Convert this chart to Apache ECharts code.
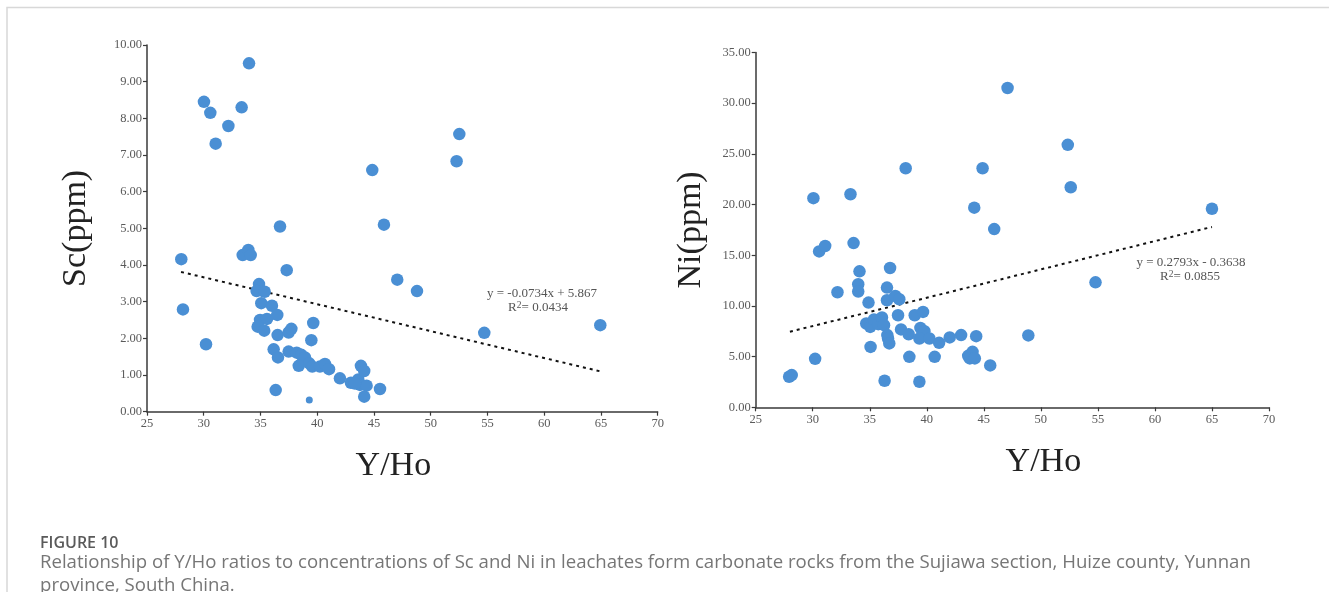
<!DOCTYPE html>
<html>
<head>
<meta charset="utf-8">
<script src="https://cdn.jsdelivr.net/npm/echarts@6/dist/echarts.min.js"></script>
<style>
html,body{margin:0;padding:0;background:#fff;}
#c{width:1329px;height:592px;}
</style>
</head>
<body>
<div id="c"></div>
<script>
// ---- Data ----
const xTicks = [25, 30, 35, 40, 45, 50, 55, 60, 65, 70];
const scYHo = [33.99,30.02,30.58,31.05,32.17,33.34,44.85,45.88,36.72,52.52,52.28,47.05,48.79,54.72,64.94,45.53,
  28.02,28.17,30.20,33.43,33.93,34.14,37.31,34.87,34.66,35.37,35.07,36.01,36.48,34.96,35.57,34.75,35.33,36.51,37.48,37.72,
  39.65,39.48,36.16,36.54,37.48,38.19,38.60,38.92,38.37,39.30,39.56,40.24,40.68,41.04,42.00,42.97,43.62,43.85,44.14,43.77,
  44.35,43.32,44.14,36.34];
const scValues = [9.50,8.45,8.15,7.31,7.79,8.30,6.59,5.10,5.05,7.57,6.83,3.60,3.29,2.15,2.36,0.62,
  4.16,2.79,1.84,4.27,4.41,4.27,3.86,3.48,3.29,3.27,2.96,2.89,2.64,2.50,2.53,2.32,2.21,2.09,2.16,2.26,
  2.42,1.95,1.70,1.48,1.64,1.61,1.55,1.48,1.25,1.32,1.23,1.23,1.30,1.16,0.91,0.79,0.88,1.25,1.11,0.73,
  0.71,0.77,0.41,0.59];
const scSmallYHo = [39.30];
const scSmallValues = [0.32];

const niYHo = [30.06,33.31,38.15,44.89,44.16,45.91,47.08,52.36,52.62,65.00,54.79,48.90,45.56,
  27.93,28.16,30.21,30.56,31.09,32.17,33.58,34.10,33.99,33.99,34.89,34.69,35.04,35.37,35.75,36.07,36.25,35.07,
  36.51,36.78,36.51,37.24,37.59,37.48,36.54,36.60,36.71,36.30,37.74,38.41,38.47,38.94,39.67,39.44,39.79,39.35,
  40.23,39.35,40.69,41.08,42.01,43.01,44.33,43.63,44.01,43.77,44.21];
const niValues = [20.63,21.02,23.58,23.58,19.69,17.58,31.50,25.89,21.71,19.59,12.33,7.09,4.13,
  3.01,3.18,4.78,15.38,15.91,11.35,16.20,13.41,12.14,11.42,10.33,8.27,7.93,8.66,8.20,8.86,8.10,5.96,
  11.81,13.74,10.56,10.98,10.66,9.08,7.12,6.79,6.30,2.62,7.68,7.21,4.98,9.08,9.41,7.83,7.51,6.79,
  6.79,2.52,4.98,6.36,6.89,7.12,7.02,5.08,5.47,4.82,4.82];

const scFit = { slope: -0.0734, intercept: 5.867, r2: '0.0434', eq: 'y = -0.0734x + 5.867' };
const niFit = { slope: 0.2793, intercept: -0.3638, r2: '0.0855', eq: 'y = 0.2793x - 0.3638' };
const fitRange = [28, 65];

const caption1 = 'FIGURE 10';
const caption2 = 'Relationship of Y/Ho ratios to concentrations of Sc and Ni in leachates form carbonate rocks from the Sujiawa section, Huize county, Yunnan';
const caption3 = 'province, South China.';

// ---- Build ----
const zip = (xs, ys) => xs.map((x, i) => [x, ys[i]]);
const fitLine = f => fitRange.map(x => [x, f.slope * x + f.intercept]);

const serif = '"Liberation Serif", "DejaVu Serif", serif';
const dotColor = '#4a8fd4';
const axisColor = '#3a3a3a';
const labelColor = '#5a5a5a';

function xAxis(gi, gap, pad) {
  return {
    gridIndex: gi, type: 'value', min: 25, max: 70, interval: 5,
    axisLine: { show: true, lineStyle: { color: axisColor, width: 1.5 } },
    axisTick: { show: true, length: 4, lineStyle: { color: axisColor, width: 1.2 } },
    axisLabel: { color: labelColor, fontFamily: serif, fontSize: 12.5, margin: 6 },
    splitLine: { show: false },
    name: 'Y/Ho', nameLocation: 'middle', nameGap: gap,
    nameTextStyle: { fontFamily: serif, fontSize: 34, color: '#222', padding: pad }
  };
}
function yAxis(gi, max, interval, name, gap) {
  return {
    gridIndex: gi, type: 'value', min: 0, max: max, interval: interval,
    axisLine: { show: true, lineStyle: { color: axisColor, width: 1.5 } },
    axisTick: { show: true, length: 4, lineStyle: { color: axisColor, width: 1.2 } },
    axisLabel: { color: labelColor, fontFamily: serif, fontSize: 12.5, margin: 5, formatter: v => v.toFixed(2) },
    splitLine: { show: false },
    name: name, nameLocation: 'middle', nameGap: gap, nameRotate: 90,
    nameTextStyle: { fontFamily: serif, fontSize: 34, color: '#222' }
  };
}

const chart = echarts.init(document.getElementById('c'), null, { renderer: 'canvas' });
const eqStyle = { fontFamily: serif, fontSize: 13, fill: '#555' };
const r2Rich = {
  a: { fontFamily: serif, fontSize: 13, fill: '#555', color: '#555' },
  s: { fontFamily: serif, fontSize: 9.5, fill: '#555', color: '#555', verticalAlign: 'top', padding: [0, 0, 6, 0] }
};
chart.setOption({
  animation: false,
  grid: [
    { left: 147, top: 45, width: 510.7, height: 366.7 },
    { left: 755.7, top: 52.5, width: 513.3, height: 354.8 }
  ],
  xAxis: [xAxis(0, 37, [0, 18, 0, 0]), xAxis(1, 38, [0, 0, 0, 62])],
  yAxis: [yAxis(0, 10, 1, 'Sc(ppm)', 54), yAxis(1, 35, 5, 'Ni(ppm)', 48)],
  series: [
    { type: 'line', xAxisIndex: 0, yAxisIndex: 0, data: fitLine(scFit), symbol: 'none',
      lineStyle: { color: '#111', width: 2, type: [3, 4] }, z: 1 },
    { type: 'scatter', xAxisIndex: 0, yAxisIndex: 0, data: zip(scYHo, scValues), symbolSize: 12.5,
      itemStyle: { color: dotColor, opacity: 1 }, z: 2 },
    { type: 'scatter', xAxisIndex: 0, yAxisIndex: 0, data: zip(scSmallYHo, scSmallValues), symbolSize: 7,
      itemStyle: { color: dotColor, opacity: 1 }, z: 2 },
    { type: 'line', xAxisIndex: 1, yAxisIndex: 1, data: fitLine(niFit), symbol: 'none',
      lineStyle: { color: '#111', width: 2, type: [3, 4] }, z: 1 },
    { type: 'scatter', xAxisIndex: 1, yAxisIndex: 1, data: zip(niYHo, niValues), symbolSize: 12.5,
      itemStyle: { color: dotColor, opacity: 1 }, z: 2 }
  ],
  graphic: [
    { type: 'rect', shape: { x: 7, y: 7.5, width: 1340, height: 600 }, style: { fill: 'none', stroke: '#d8d8d8', lineWidth: 1.5 }, silent: true },
    { type: 'text', x: 542, y: 294, style: Object.assign({ text: scFit.eq, align: 'center', verticalAlign: 'middle' }, eqStyle) },
    { type: 'text', x: 538, y: 308, style: { text: '{a|R}{s|2}{a|= ' + scFit.r2 + '}', align: 'center', verticalAlign: 'middle', rich: r2Rich } },
    { type: 'text', x: 1191, y: 263, style: Object.assign({ text: niFit.eq, align: 'center', verticalAlign: 'middle' }, eqStyle) },
    { type: 'text', x: 1190, y: 277, style: { text: '{a|R}{s|2}{a|= ' + niFit.r2 + '}', align: 'center', verticalAlign: 'middle', rich: r2Rich } },
    { type: 'text', x: 40, y: 543, style: { text: caption1, fontFamily: '"Open Sans", sans-serif', fontWeight: 600, fontSize: 16, fill: '#5a5a5a', verticalAlign: 'middle' } },
    { type: 'text', x: 40, y: 563, style: { text: caption2, fontFamily: '"Open Sans", sans-serif', fontSize: 18.6, fill: '#767676', verticalAlign: 'middle' } },
    { type: 'text', x: 40, y: 586, style: { text: caption3, fontFamily: '"Open Sans", sans-serif', fontSize: 18.6, fill: '#767676', verticalAlign: 'middle' } }
  ]
});
</script>
</body>
</html>
